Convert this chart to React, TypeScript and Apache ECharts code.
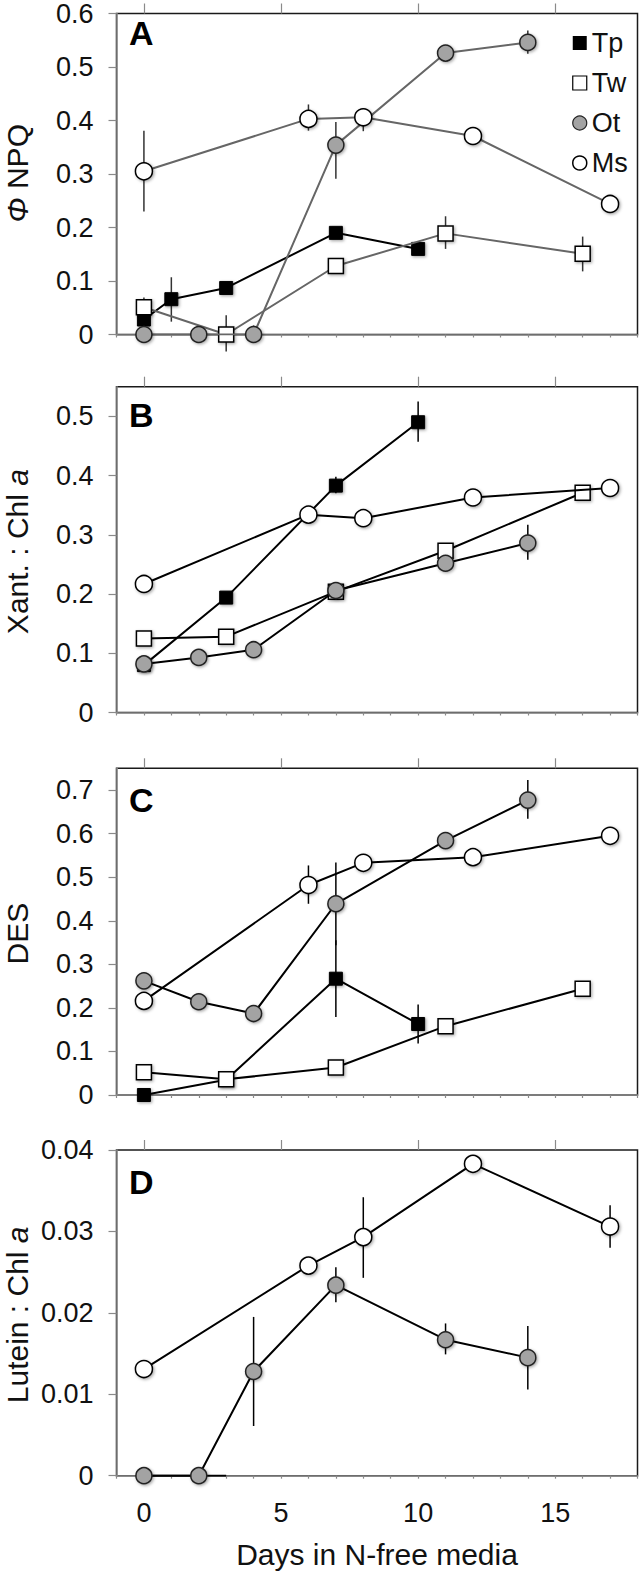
import React, { useEffect, useRef } from "react";
import * as echarts from "echarts";

// ---------- data ----------
const seriesNames = ["Tp", "Tw", "Ot", "Ms"];
const xTickLabels = [0, 5, 10, 15];
const xMinorTicks = [-1, 0, 1, 2, 3, 4, 5, 6, 7, 8, 9, 10, 11, 12, 13, 14, 15, 16, 17, 18];

// Panel A: Phi NPQ
const tpA = [[0, 0.028], [1, 0.066], [3, 0.087], [7, 0.19], [10, 0.16]];
const twA = [[0, 0.051], [3, 0.0], [7, 0.128], [11, 0.189], [16, 0.151]];
const otA = [[0, 0], [2, 0], [4, 0], [7, 0.354], [11, 0.526], [14, 0.546]];
const msA = [[0, 0.305], [6, 0.403], [8, 0.406], [12, 0.371], [17, 0.244]];
const errA = [[1, 0.024, 0.107], [3, -0.032, 0.036], [11, 0.16, 0.221], [16, 0.118, 0.183], [7, 0.291, 0.397], [14, 0.525, 0.568], [0, 0.23, 0.381], [6, 0.381, 0.43], [8, 0.38, 0.42], [0, 0.045, 0.069], [4, 0, 0.017]];
const yTicksA = [0, 0.1, 0.2, 0.3, 0.4, 0.5, 0.6];

// Panel B: Xant. : Chl a
const tpB = [[0, 0.08], [3, 0.194], [7, 0.383], [10, 0.49]];
const twB = [[0, 0.125], [3, 0.128], [7, 0.204], [11, 0.273], [16, 0.371]];
const otB = [[0, 0.082], [2, 0.093], [4, 0.106], [7, 0.206], [11, 0.252], [14, 0.286]];
const msB = [[0, 0.217], [6, 0.334], [8, 0.328], [12, 0.363], [17, 0.379]];
const errB = [[10, 0.457, 0.525], [7, 0.37, 0.398], [14, 0.258, 0.317]];
const yTicksB = [0, 0.1, 0.2, 0.3, 0.4, 0.5];

// Panel C: DES
const tpC = [[0, 0], [3, 0.035], [7, 0.267], [10, 0.163]];
const twC = [[0, 0.052], [3, 0.036], [7, 0.063], [11, 0.158], [16, 0.244]];
const otC = [[0, 0.262], [2, 0.214], [4, 0.187], [7, 0.439], [11, 0.584], [14, 0.677]];
const msC = [[0, 0.216], [6, 0.482], [8, 0.533], [12, 0.546], [17, 0.595]];
const errC = [[7, 0.179, 0.355], [10, 0.118, 0.208], [7, 0.344, 0.534], [14, 0.634, 0.723], [6, 0.439, 0.527]];
const yTicksC = [0, 0.1, 0.2, 0.3, 0.4, 0.5, 0.6, 0.7];

// Panel D: Lutein : Chl a
const tpD = [[0, 0], [3, 0]];
const otD = [[0, 0], [2, 0], [4, 0.0128], [7, 0.0234], [11, 0.0167], [14, 0.0145]];
const msD = [[0, 0.0131], [6, 0.0258], [8, 0.0293], [12, 0.0383], [17, 0.0306]];
const errD = [[4, 0.0061, 0.0195], [7, 0.0213, 0.0256], [11, 0.0149, 0.0187], [14, 0.0106, 0.0184], [8, 0.0243, 0.0342], [17, 0.028, 0.0332], [0, 0.0128, 0.0137]];
const yTicksD = [0, 0.01, 0.02, 0.03, 0.04];

const FONT = "'Liberation Sans', Arial, Helvetica, sans-serif";

const panels = [
  { top: 8, height: 326.5, ymax: 0.6, yTicks: yTicksA, tp: tpA, tw: twA, ot: otA, ms: msA, err: errA, gray: true, letter: "A", title: "{i|Φ} NPQ" },
  { top: 386.7, height: 325.8, ymax: 0.55, yTicks: yTicksB, tp: tpB, tw: twB, ot: otB, ms: msB, err: errB, gray: false, letter: "B", title: "Xant. : Chl {i|a}" },
  { top: 768.3, height: 326.7, ymax: 0.75, yTicks: yTicksC, tp: tpC, tw: twC, ot: otC, ms: msC, err: errC, gray: false, letter: "C", title: "DES" },
  { top: 1150, height: 325.7, ymax: 0.04, yTicks: yTicksD, tp: null, tw: null, ot: otD, ms: msD, err: errD, gray: false, letter: "D", title: "Lutein : Chl {i|a}", tpLine: tpD },
];

const GRID_LEFT = 116.5;
const GRID_W = 521;

const fmtY = (v: number) => (v === 0 ? "0" : String(+v.toFixed(3)));

const shadow = { shadowBlur: 3, shadowColor: "rgba(0,0,0,0.35)", shadowOffsetX: 1.2, shadowOffsetY: 1.2 };

function buildOption() {
  const grid: any[] = [];
  const xAxis: any[] = [];
  const yAxis: any[] = [];
  const series: any[] = [];
  const graphic: any[] = [];

  panels.forEach((p, i) => {
    grid.push({
      left: GRID_LEFT, top: p.top, width: GRID_W, height: p.height,
      show: true, borderColor: "#1a1a1a", borderWidth: 1.5, backgroundColor: "transparent",
    });
    const isLast = i === panels.length - 1;
    xAxis.push({
      type: "value", gridIndex: i, min: -1, max: 18, interval: 1,
      axisLine: { show: true, onZero: false, lineStyle: { color: "#8a8a8a", width: 1.5 } },
      axisTick: { show: true, length: 3, customValues: xMinorTicks, lineStyle: { color: "#8a8a8a", width: 1.2 } },
      axisLabel: { show: isLast, customValues: xTickLabels, fontSize: 27, color: "#111", fontFamily: FONT, margin: 24 },
      splitLine: { show: false },
      name: isLast ? "Days in N-free media" : "",
      nameLocation: "middle", nameGap: 64,
      nameTextStyle: { fontSize: 30, color: "#111", fontFamily: FONT },
    });
    xAxis.push({
      type: "value", gridIndex: i, min: -1, max: 18, interval: 1,
      axisLine: { show: false, onZero: false },
      axisTick: { show: true, length: 10, customValues: xTickLabels, lineStyle: { color: "#8a8a8a", width: 1.2 } },
      axisLabel: { show: false },
      splitLine: { show: false },
    });
    yAxis.push({
      type: "value", gridIndex: i, min: 0, max: p.ymax,
      axisLine: { show: true, onZero: false, lineStyle: { color: "#8a8a8a", width: 1.5 } },
      axisTick: { show: true, length: 8, customValues: p.yTicks, lineStyle: { color: "#8a8a8a", width: 1.2 } },
      axisLabel: { customValues: p.yTicks, formatter: fmtY, fontSize: 27, color: "#111", fontFamily: FONT, margin: 23 },
      splitLine: { show: false },
    });
    const lineCol = p.gray ? "#666" : "#000";
    const xi = i * 2;
    series.push({
      type: "custom", name: "err" + i, xAxisIndex: xi, yAxisIndex: i, clip: false, z: 1,
      data: p.err, encode: { x: 0, y: [1, 2] },
      renderItem: (params: any, api: any) => {
        const a = api.coord([api.value(0), api.value(1)]);
        const b = api.coord([api.value(0), api.value(2)]);
        return { type: "line", shape: { x1: a[0], y1: a[1], x2: b[0], y2: b[1] }, style: { stroke: p.gray ? "#333" : "#000", lineWidth: 1.5 } };
      },
    });
    if (p.tpLine) {
      series.push({
        type: "line", name: "Tp", xAxisIndex: xi, yAxisIndex: i, data: p.tpLine, showSymbol: false, symbol: "none",
        lineStyle: { color: "#000", width: 2 }, z: 2,
      });
    }
    if (p.tp) {
      series.push({
        type: "line", name: "Tp", xAxisIndex: xi, yAxisIndex: i, data: p.tp, symbol: "rect", symbolSize: 13,
        lineStyle: { color: "#000", width: 2 }, itemStyle: { color: "#000", borderColor: "#000", borderWidth: 1, ...shadow }, z: 2,
      });
    }
    if (p.tw) {
      series.push({
        type: "line", name: "Tw", xAxisIndex: xi, yAxisIndex: i, data: p.tw, symbol: "rect", symbolSize: 15,
        lineStyle: { color: lineCol, width: 2 }, itemStyle: { color: "#fff", borderColor: "#000", borderWidth: 1.5, ...shadow }, z: 3,
      });
    }
    series.push({
      type: "line", name: "Ot", xAxisIndex: xi, yAxisIndex: i, data: p.ot, symbol: "circle", symbolSize: 16,
      lineStyle: { color: lineCol, width: 2 }, itemStyle: { color: "#a3a3a3", borderColor: "#222", borderWidth: 1.5, ...shadow }, z: 4,
    });
    series.push({
      type: "line", name: "Ms", xAxisIndex: xi, yAxisIndex: i, data: p.ms, symbol: "circle", symbolSize: 17,
      lineStyle: { color: lineCol, width: 2 }, itemStyle: { color: "#fff", borderColor: "#000", borderWidth: 1.5, ...shadow }, z: 5,
    });

    graphic.push({
      type: "text", left: 129, top: p.top + (i === 0 ? 8 : i === 1 ? 11 : 15),
      style: { text: p.letter, fontSize: 34, fontWeight: "bold", fill: "#000", fontFamily: FONT },
    });
    graphic.push({
      type: "text", x: 17, y: p.top + p.height / 2 + 2, rotation: Math.PI / 2,
      style: {
        text: p.title, fontSize: 30, fill: "#111", fontFamily: FONT, align: "center", verticalAlign: "middle",
        rich: { i: { fontStyle: "italic", fontSize: 30, fontFamily: FONT, fill: "#111" } },
      },
    });
  });

  return {
    animation: false,
    backgroundColor: "#fff",
    grid, xAxis, yAxis, series, graphic,
    legend: {
      show: true, orient: "vertical", left: 567, top: 18, itemGap: 0,
      itemWidth: 14, itemHeight: 14,
      textStyle: { fontSize: 27, color: "#111", fontFamily: FONT, lineHeight: 40 },
      data: [
        { name: "Tp", icon: "rect", itemStyle: { color: "#000", borderColor: "#000", borderWidth: 0 } },
        { name: "Tw", icon: "rect", itemStyle: { color: "#fff", borderColor: "#000", borderWidth: 1.2 } },
        { name: "Ot", icon: "circle", itemStyle: { color: "#a3a3a3", borderColor: "#222", borderWidth: 1.2 } },
        { name: "Ms", icon: "circle", itemStyle: { color: "#fff", borderColor: "#000", borderWidth: 1.5 } },
      ],
      selectedMode: false,
    },
  };
}

export default function App() {
  const ref = useRef<HTMLDivElement>(null);
  useEffect(() => {
    if (!ref.current) return;
    const chart = echarts.init(ref.current, null, { renderer: "svg" });
    chart.setOption(buildOption() as any);
    return () => chart.dispose();
  }, []);
  return <div ref={ref} style={{ position: "absolute", left: 0, top: 0, width: 640, height: 1573 }} />;
}
